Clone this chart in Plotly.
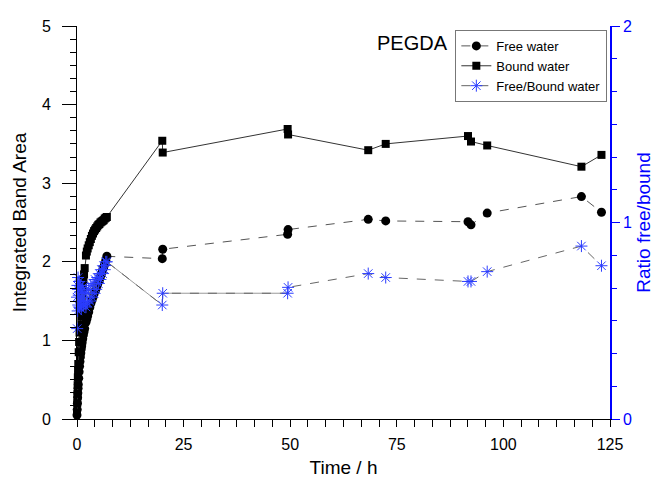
import plotly.graph_objects as go

# Time points (h): dense early-stage sampling followed by sparse long-term readings
time_h = [
    0.0, 0.05, 0.1, 0.15, 0.2, 0.25, 0.3, 0.4, 0.5, 0.6, 0.7, 0.8, 0.9, 1.0,
    1.1, 1.2, 1.35, 1.5, 1.65, 1.8, 2.1, 2.3, 2.5, 2.75, 3.0, 3.25, 3.5, 3.75,
    4.0, 4.25, 4.5, 4.75, 5.0, 5.25, 5.5, 5.75, 6.0, 6.25, 6.5, 6.75, 7.0,
    20.0, 20.1, 49.4, 49.5, 68.3, 72.4, 91.7, 92.4, 96.2, 118.3, 123.0,
]

free_water = [
    0.05, 0.12, 0.2, 0.27, 0.33, 0.39, 0.44, 0.52, 0.6, 0.67, 0.73, 0.79, 0.84,
    0.89, 0.93, 0.97, 1.02, 1.07, 1.11, 1.15, 1.23, 1.27, 1.31, 1.36, 1.42, 1.47,
    1.51, 1.55, 1.59, 1.63, 1.66, 1.7, 1.74, 1.77, 1.81, 1.85, 1.89, 1.93, 1.97,
    2.02, 2.07,
    2.04, 2.16, 2.35, 2.41, 2.54, 2.52, 2.51, 2.47, 2.62, 2.83, 2.63,
]

bound_water = [
    0.08, 0.2, 0.32, 0.43, 0.53, 0.62, 0.7, 0.85, 0.98, 1.1, 1.2, 1.3, 1.38,
    1.46, 1.53, 1.6, 1.69, 1.77, 1.84, 1.92, 2.08, 2.13, 2.17, 2.21, 2.25, 2.29,
    2.33, 2.36, 2.39, 2.41, 2.43, 2.45, 2.47, 2.48, 2.5, 2.51, 2.52, 2.53, 2.55,
    2.56, 2.57,
    3.54, 3.39, 3.69, 3.62, 3.42, 3.50, 3.60, 3.53, 3.48, 3.21, 3.36,
]

ratio_free_bound = [
    0.62, 0.46, 0.68, 0.55, 0.66, 0.72, 0.58, 0.63, 0.7, 0.57, 0.66, 0.6, 0.68,
    0.56, 0.65, 0.6, 0.67, 0.58, 0.64, 0.6,
    0.57, 0.64, 0.59, 0.66, 0.6, 0.68, 0.62, 0.69, 0.64, 0.71, 0.66, 0.72, 0.69,
    0.74, 0.71, 0.76, 0.74, 0.78, 0.76, 0.8, 0.8,
    0.58, 0.64, 0.64, 0.67, 0.74, 0.72, 0.70, 0.70, 0.75, 0.88, 0.78,
]

x_major = [0, 25, 50, 75, 100, 125]

FONT = "Liberation Sans, Arial, sans-serif"
BLUE = "#0000ff"
MARK_BLUE = "#2a3cff"

fig = go.Figure()

fig.add_trace(go.Scatter(
    x=time_h, y=free_water, name="Free water", mode="lines+markers",
    line=dict(color="#555555", width=1, dash="dash"),
    marker=dict(symbol="circle", size=9, color="black"),
    cliponaxis=False,
))
fig.add_trace(go.Scatter(
    x=time_h, y=bound_water, name="Bound water", mode="lines+markers",
    line=dict(color="#333333", width=1),
    marker=dict(symbol="square", size=8, color="black"),
    cliponaxis=False,
))
# solid connector for the ratio between the early block and the 49 h readings
seg = slice(40, 44)
fig.add_trace(go.Scatter(
    x=time_h[seg], y=ratio_free_bound[seg], yaxis="y2", mode="lines",
    line=dict(color="#9a9a9a", width=1), showlegend=False, hoverinfo="skip",
    cliponaxis=False,
))
fig.add_trace(go.Scatter(
    x=time_h, y=ratio_free_bound, name="Free/Bound water", yaxis="y2",
    mode="lines+markers",
    line=dict(color="#666666", width=1, dash="dash"),
    marker=dict(symbol="asterisk-open", size=10, color=MARK_BLUE,
                line=dict(width=1, color=MARK_BLUE)),
    cliponaxis=False,
))

fig.update_layout(
    width=657, height=487,
    margin=dict(l=77, r=47, t=26, b=68),
    paper_bgcolor="white", plot_bgcolor="white",
    font=dict(family=FONT, size=16, color="black"),
    showlegend=True,
    legend=dict(
        x=0.995, y=0.99, xanchor="right", yanchor="top",
        bordercolor="#777777", borderwidth=1, bgcolor="white",
        font=dict(family=FONT, size=13, color="black"),
        tracegroupgap=0, itemwidth=30,
    ),
    xaxis=dict(
        range=[0, 125], tickvals=x_major, ticks="outside", ticklen=7,
        tickcolor="black", showline=True, linecolor="black", linewidth=1,
        showgrid=False, zeroline=False, tickfont=dict(size=16),
        automargin=False, ticklabelstandoff=4,
        minor=dict(ticks="outside", ticklen=7, dtick=25 / 6, tick0=0,
                   tickcolor="black", showgrid=False),
        title=dict(text="Time / h", font=dict(size=19), standoff=8),
    ),
    xaxis2=dict(
        range=[0, 125], overlaying="x", anchor="y", side="bottom",
        tickvals=x_major, ticks="inside", ticklen=14, tickcolor="#333333",
        showticklabels=False, showline=False, showgrid=False, zeroline=False,
        automargin=False,
    ),
    xaxis3=dict(
        range=[0, 125], overlaying="x", anchor="y", side="top",
        tick0=0, dtick=25 / 6, ticks="inside", ticklen=5, tickcolor="black",
        showticklabels=False, showline=True, linecolor="black", linewidth=1,
        showgrid=False, zeroline=False, automargin=False,
    ),
    yaxis=dict(
        range=[0, 5], dtick=1, ticks="outside", ticklen=14, tickcolor="black",
        showline=True, linecolor="black", linewidth=1, showgrid=False,
        zeroline=False, tickfont=dict(size=16), automargin=False,
        ticklabelstandoff=8,
        minor=dict(ticks="outside", ticklen=6, dtick=1 / 6, tick0=0,
                   tickcolor="black", showgrid=False),
        title=dict(text="Integrated Band Area", font=dict(size=19), standoff=10),
    ),
    yaxis2=dict(
        range=[0, 2], overlaying="y", side="right", anchor="x", dtick=1,
        ticks="outside", ticklen=8, tickcolor=BLUE, showline=True,
        linecolor=BLUE, linewidth=1.5, showgrid=False, zeroline=False,
        tickfont=dict(size=16, color=BLUE), automargin=False,
        minor=dict(ticks="outside", ticklen=5, dtick=1 / 6, tick0=0,
                   tickcolor=BLUE, showgrid=False),
        title=dict(text="Ratio free/bound", font=dict(size=19, color=BLUE),
                   standoff=6),
    ),
    annotations=[dict(
        text="PEGDA", xref="paper", yref="paper", x=0.63, y=0.957,
        xanchor="center", yanchor="middle", showarrow=False,
        font=dict(family=FONT, size=20, color="black"),
    )],
)

fig.write_html("out.html")
